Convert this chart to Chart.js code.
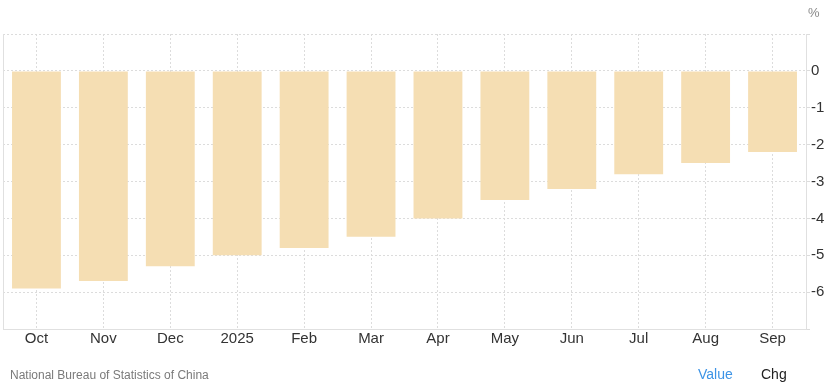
<!DOCTYPE html>
<html>
<head>
<meta charset="utf-8">
<script src="https://cdn.jsdelivr.net/npm/chart.js@4"></script>
<style>
  body { margin: 0; background: #fff; font-family: "Liberation Sans", Arial, sans-serif; }
  #wrap { position: relative; width: 830px; height: 391px; }
  #chart { position: absolute; left: 0; top: 0; }
  .txt { position: absolute; white-space: nowrap; }
</style>
</head>
<body>
<div id="wrap">
  <canvas id="chart" width="830" height="391"></canvas>
  <div class="txt" style="left:808px; top:5px; font-size:13px; color:#8a8a8a;">%</div>
  <div class="txt" style="left:10px; top:368px; font-size:12px; color:#7a7a7a;">National Bureau of Statistics of China</div>
  <div class="txt" style="left:698px; top:366px; font-size:14px; color:#3d94e6;">Value</div>
  <div class="txt" style="left:761px; top:366px; font-size:14px; color:#222;">Chg</div>
</div>
<script>
// nhãn tháng và giá trị (%)
const labels = ['Oct', 'Nov', 'Dec', '2025', 'Feb', 'Mar', 'Apr', 'May', 'Jun', 'Jul', 'Aug', 'Sep'];
const values = [-5.9, -5.7, -5.3, -5.0, -4.8, -4.5, -4.0, -3.5, -3.2, -2.8, -2.5, -2.2];
const yTicks = [0, -1, -2, -3, -4, -5, -6];

// đường viền bên trái khung biểu đồ
const leftBorder = {
    id: 'leftBorder',
    afterDraw(chart) {
        const { ctx, chartArea } = chart;
        ctx.save();
        ctx.strokeStyle = '#e0e0e0';
        ctx.lineWidth = 1;
        ctx.beginPath();
        ctx.moveTo(chartArea.left + 0.5, chartArea.top);
        ctx.lineTo(chartArea.left + 0.5, chartArea.bottom);
        ctx.stroke();
        ctx.restore();
    }
};

const ctx = document.getElementById('chart').getContext('2d');
new Chart(ctx, {
    type: 'bar',
    data: {
        labels: labels,
        datasets: [{
            data: values,
            backgroundColor: '#f5deb3',
            borderWidth: 0,
            categoryPercentage: 1,
            barPercentage: 0.73
        }]
    },
    options: {
        responsive: false,
        animation: false,
        layout: { padding: { top: 34, left: 3, right: 0, bottom: 38 } },
        plugins: { legend: { display: false }, tooltip: { enabled: false } },
        scales: {
            x: {
                grid: { offset: false, color: '#dcdcdc', drawTicks: false },
                border: { color: '#e0e0e0', dash: [2, 2] },
                ticks: { color: '#333', font: { family: '"Liberation Sans", Arial', size: 15 }, padding: 1, maxRotation: 0 },
                afterFit: (s) => { s.height = 24; }
            },
            y: {
                position: 'right',
                min: -7,
                max: 1,
                grid: { color: '#dcdcdc', tickLength: 4 },
                border: { color: '#e0e0e0', dash: [2, 2] },
                ticks: {
                    stepSize: 1,
                    padding: 1,
                    color: '#333',
                    font: { family: '"Liberation Sans", Arial', size: 15 },
                    callback: (v) => yTicks.includes(v) ? String(v) : ''
                },
                afterFit: (s) => { s.width = 24; }
            }
        }
    },
    plugins: [leftBorder]
});
</script>
</body>
</html>
